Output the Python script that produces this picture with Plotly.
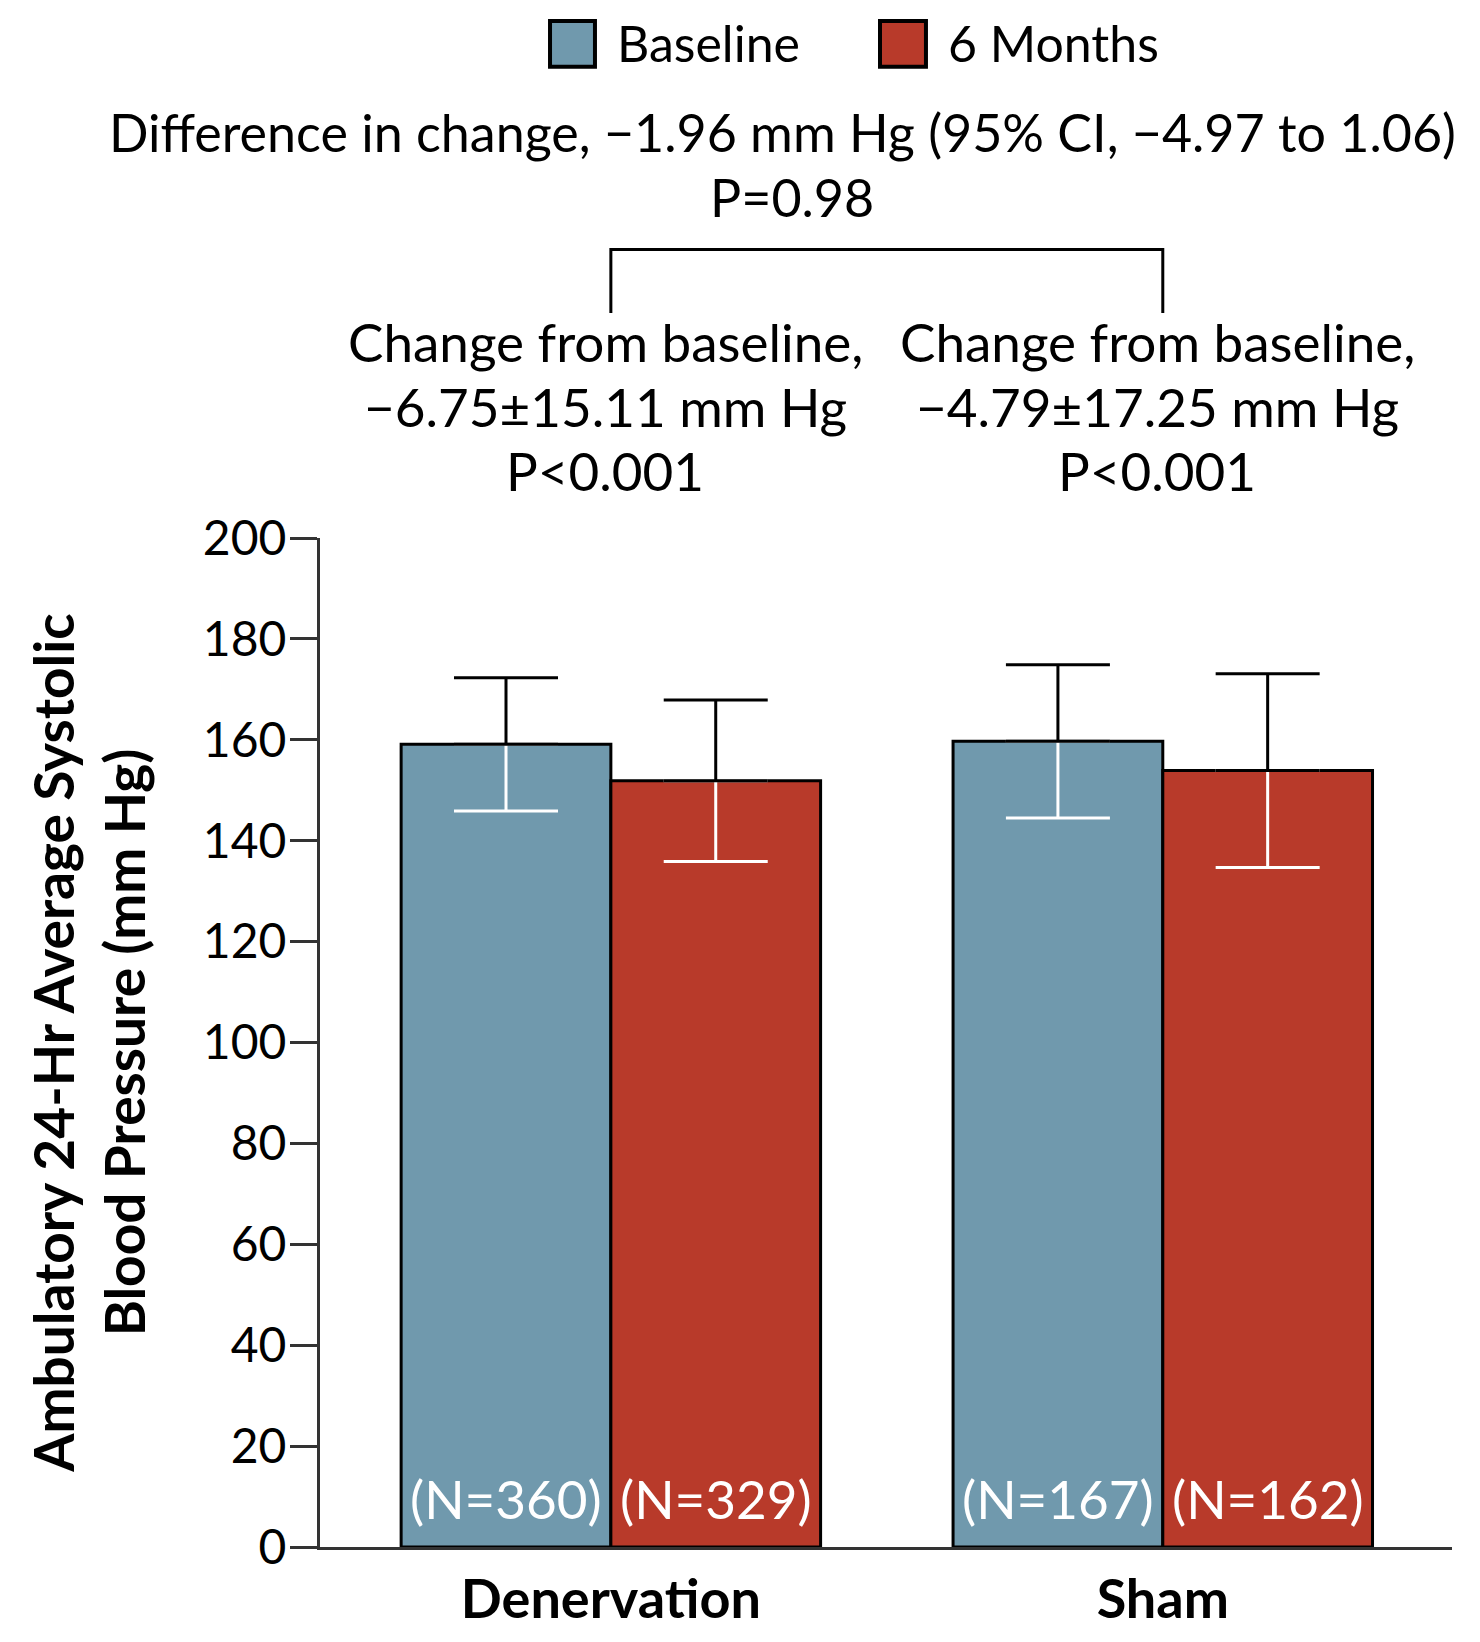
import plotly.graph_objects as go

# ---------------- data ----------------
groups = ["Denervation", "Sham"]
baseline_mean = [159.1, 159.7]
baseline_sd = [13.2, 15.2]
month6_mean = [151.9, 153.9]
month6_sd = [16.0, 19.2]
baseline_n = ["(N=360)", "(N=167)"]
month6_n = ["(N=329)", "(N=162)"]
y_ticks = [0, 20, 40, 60, 80, 100, 120, 140, 160, 180, 200]
series_names = ["Baseline", "6 Months"]
change_lines = [
    ["Change from baseline,", "\u22126.75\u00b115.11 mm Hg", "P<0.001"],
    ["Change from baseline,", "\u22124.79\u00b117.25 mm Hg", "P<0.001"],
]

# ---------------- style ----------------
BLUE = "#7099AD"
RED = "#B83A2A"
AXIS = "#333333"
FONT = "Lato"
FS = 53
BARGAP = 0.24

zeros = [0 for _ in groups]

fig = go.Figure()


def main_bar(means, sds, color, og):
    return go.Bar(
        x=groups, y=means, offsetgroup=og,
        marker=dict(color=color, line=dict(color="black", width=3)),
        error_y=dict(type="data", symmetric=False, array=zeros, arrayminus=sds,
                     color="white", thickness=3, width=52),
        showlegend=False, hoverinfo="skip",
    )


def top_err(means, sds, og):
    return go.Bar(
        x=groups, y=means, offsetgroup=og,
        marker=dict(color="rgba(0,0,0,0)", line=dict(width=0)),
        error_y=dict(type="data", symmetric=False, array=sds, arrayminus=zeros,
                     color="black", thickness=3, width=52),
        showlegend=False, hoverinfo="skip",
    )


fig.add_trace(main_bar(baseline_mean, baseline_sd, BLUE, "b"))
fig.add_trace(main_bar(month6_mean, month6_sd, RED, "m"))
fig.add_trace(top_err(baseline_mean, baseline_sd, "b"))
fig.add_trace(top_err(month6_mean, month6_sd, "m"))

fig.update_layout(
    width=1472, height=1634,
    margin=dict(l=312, r=28, t=530, b=87),
    plot_bgcolor="white", paper_bgcolor="white",
    barmode="group", bargap=BARGAP, bargroupgap=0,
    showlegend=False,
    font=dict(family=FONT, color="black", size=FS),
)

fig.update_xaxes(
    range=[-0.527, 1.524], showline=True, linecolor=AXIS, linewidth=3,
    ticks="", showgrid=False, zeroline=False, ticklabelstandoff=3,
    tickfont=dict(size=54, family=FONT, weight="bold", color="black"),
)
fig.update_yaxes(
    range=[0, 200], tickvals=y_ticks, ticks="outside", ticklen=27, tickwidth=3,
    tickcolor=AXIS, showline=True, linecolor=AXIS, linewidth=3,
    showgrid=False, zeroline=False, ticklabelstandoff=-6,
    tickfont=dict(size=48, family=FONT, color="black"),
    title=dict(text="Ambulatory 24-Hr Average Systolic<br>Blood Pressure (mm Hg)",
               font=dict(size=55, family=FONT, weight="bold", color="black"),
               standoff=40),
)

# sample size labels at the foot of each bar
half = (1 - BARGAP) / 4
for i in range(len(groups)):
    for off, lab in ((-half, baseline_n[i]), (half, month6_n[i])):
        fig.add_annotation(xref="x", yref="y", x=i + off, y=0, yshift=49,
                           xanchor="center", yanchor="middle", text=lab, showarrow=False,
                           font=dict(size=53, family=FONT, color="white"))

# custom legend (large swatches)
legend_items = [(0.2032, 0.2429, BLUE, series_names[0]), (0.4947, 0.5353, RED, series_names[1])]
for x0, x1, col, name in legend_items:
    fig.add_shape(type="rect", xref="paper", yref="paper", x0=x0, x1=x1, y0=1.4671, y1=1.5123,
                  fillcolor=col, line=dict(color="black", width=4))
    fig.add_annotation(xref="paper", yref="paper", x=x1 + 0.018, y=1.4907, xanchor="left",
                       yanchor="middle", text=name, showarrow=False,
                       font=dict(size=50, family=FONT, color="black"))

# comparison text and bracket
fig.add_annotation(xref="paper", yref="paper", x=0.409, y=1.402,
                   text="Difference in change, \u22121.96 mm Hg (95% CI, \u22124.97 to 1.06)",
                   showarrow=False, xanchor="center", yanchor="middle", font=dict(size=52))
fig.add_annotation(xref="paper", yref="paper", x=0.417, y=1.338, text="P=0.98",
                   showarrow=False, xanchor="center", yanchor="middle", font=dict(size=52))
fig.add_shape(type="path", xref="x", yref="paper",
              path="M 0,1.223 L 0,1.286 L 1,1.286 L 1,1.223",
              line=dict(color="black", width=3))

line_y = [1.1944, 1.1305, 1.0665]
for i, lines in enumerate(change_lines):
    for yy, t in zip(line_y, lines):
        fig.add_annotation(xref="x", yref="paper", x=i - 0.01, y=yy, text=t,
                           showarrow=False, xanchor="center", yanchor="middle",
                           font=dict(size=FS))

fig.write_html("out.html")
